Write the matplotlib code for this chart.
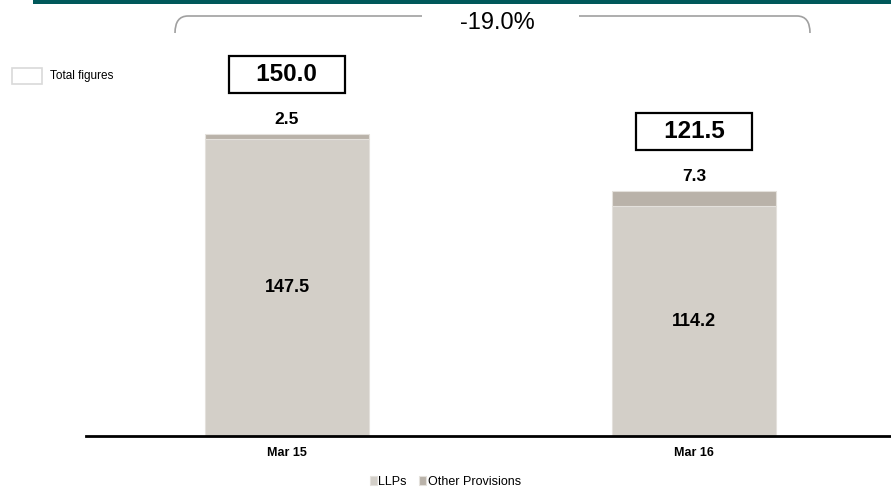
import numpy as np
import matplotlib
matplotlib.use("Agg")
import matplotlib.pyplot as plt
from matplotlib.path import Path
from matplotlib.patches import PathPatch, Rectangle

plt.rcParams["font.family"] = ["Liberation Sans", "DejaVu Sans"]

# data
categories = ["Mar 15", "Mar 16"]
llps = [147.5, 114.2]
other_prov = [2.5, 7.3]
totals = [150.0, 121.5]
change_label = "-19.0%"

COL_LLP = "#d3cfc8"
COL_OTH = "#b9b2a9"

W, H = 891, 487
fig = plt.figure(figsize=(W / 100, H / 100), dpi=100)

# main axes: baseline at y=436 px, left end at x=86 px
ax = fig.add_axes([86 / W, (H - 436) / H, 1 - 86 / W, 436 / H])
ax.patch.set_alpha(0)
x = np.arange(len(categories))
ax.bar(x, llps, width=0.405, color=COL_LLP, edgecolor="#e4e1dc", linewidth=0.8,
       label="LLPs")
ax.bar(x, other_prov, width=0.405, bottom=llps, color=COL_OTH,
       edgecolor="#e4e1dc", linewidth=0.8, label="Other Provisions")
ax.set_xlim(-0.494, 1.484)
ax.set_ylim(0, 216.6)

for i in range(len(categories)):
    ax.text(x[i], llps[i] / 2, f"{llps[i]:.1f}", ha="center", va="center",
            fontsize=13, fontweight="bold")
    top = llps[i] + other_prov[i]
    ax.annotate(f"{other_prov[i]:.1f}", (x[i], top), xytext=(0, 5),
                textcoords="offset points", ha="center", va="bottom",
                fontsize=12.5, fontweight="bold")
    ax.annotate(f"   {totals[i]:.1f}   ", (x[i], top), xytext=(0, 43),
                textcoords="offset points", ha="center", va="center",
                fontsize=17.5, fontweight="bold",
                bbox=dict(boxstyle="square,pad=0.3", fc="white", ec="black",
                          lw=1.6))

for s in ["top", "right", "left"]:
    ax.spines[s].set_visible(False)
ax.spines["bottom"].set_linewidth(2)
ax.set_yticks([])
ax.set_xticks(x)
ax.set_xticklabels(categories, fontsize=9, fontweight="bold")
ax.tick_params(axis="x", length=0, pad=8)

leg = fig.legend(loc="lower center", bbox_to_anchor=(0.5, -0.025), ncol=2,
                 frameon=False, fontsize=9, handlelength=0.55,
                 handleheight=0.7, handletextpad=0.1, columnspacing=1.0)

# overlay in pixel coords for decorations
ov = fig.add_axes([0, 0, 1, 1], zorder=5)
ov.set_xlim(0, W)
ov.set_ylim(H, 0)
ov.axis("off")
ov.add_patch(Rectangle((33, 0), W - 33, 3.5, color="#00585a", lw=0))

gray = "#a0a0a0"
left = Path([(175, 33), (175, 16), (188, 16), (422, 16)],
            [Path.MOVETO, Path.CURVE3, Path.CURVE3, Path.LINETO])
right = Path([(579, 16), (797, 16), (810, 16), (810, 33)],
             [Path.MOVETO, Path.LINETO, Path.CURVE3, Path.CURVE3])
ov.add_patch(PathPatch(left, fc="none", ec=gray, lw=1.2))
ov.add_patch(PathPatch(right, fc="none", ec=gray, lw=1.2))
ov.text(497, 23, change_label, ha="center", va="center", fontsize=17)

# "Total figures" key
ov.add_patch(Rectangle((12, 68), 30, 16, fc="white", ec="#d9d9d9", lw=1.2))
ov.text(50, 76, "Total figures", ha="left", va="center", fontsize=8.5)

fig.savefig("out.png", dpi=100)
